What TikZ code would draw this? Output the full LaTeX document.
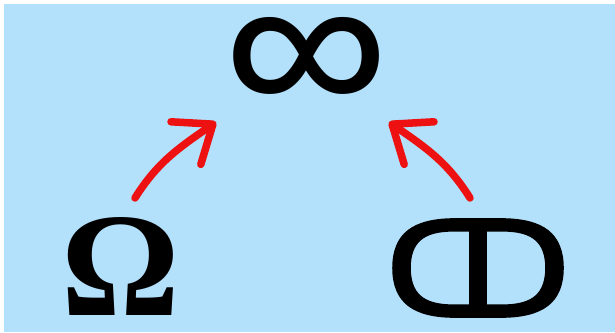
\documentclass[tikz,border=0pt]{standalone}
\usepackage{fontspec}
\newfontfamily\cdfont{DejaVu Sans}[FakeBold=2]
\newfontfamily\inffont{Fira Sans}
\newfontfamily\omfont{Liberation Serif}
\definecolor{skybg}{HTML}{B3E0FB}
\definecolor{arrowred}{HTML}{EE1111}
\usetikzlibrary{arrows.meta}

\begin{document}
\begin{tikzpicture}[
      x=1pt, y=1pt,
      glyph/.style={inner sep=0pt, outer sep=0pt, text=black},
      up/.style={-{Straight Barb[round, length=33pt, width=52pt]},
                 draw=arrowred, line width=7.5pt, line cap=round},
    ]

    % ---------- backdrop ----------
    \fill[white] (0,0) rectangle (615,-332);
    \fill[skybg] (4,-4) rectangle (615,-332);

    % ---------- symbols ----------
    \node[glyph] (inf) at (307,-66)
      {\resizebox*{!}{97pt}{\inffont ∞}};
    \node[glyph] (om) at (121,-266)
      {\fontsize{148}{148}\selectfont\omfont\bfseries Ω};
    \node[glyph] (cd) at (478,-268)
      {\resizebox*{186pt}{97pt}{\cdfont ↀ}};

    % ---------- arrow ends ----------
    \coordinate (omtop) at (135,-198);
    \coordinate (inlft) at (216,-122);
    \coordinate (cdtop) at (470,-198);
    \coordinate (inrgt) at (389,-122);

    % ---------- flow ----------
    \draw[up] (omtop) to[out=58, in=215] (inlft);
    \draw[up] (cdtop) to[out=122, in=-35] (inrgt);

\end{tikzpicture}
\end{document}
